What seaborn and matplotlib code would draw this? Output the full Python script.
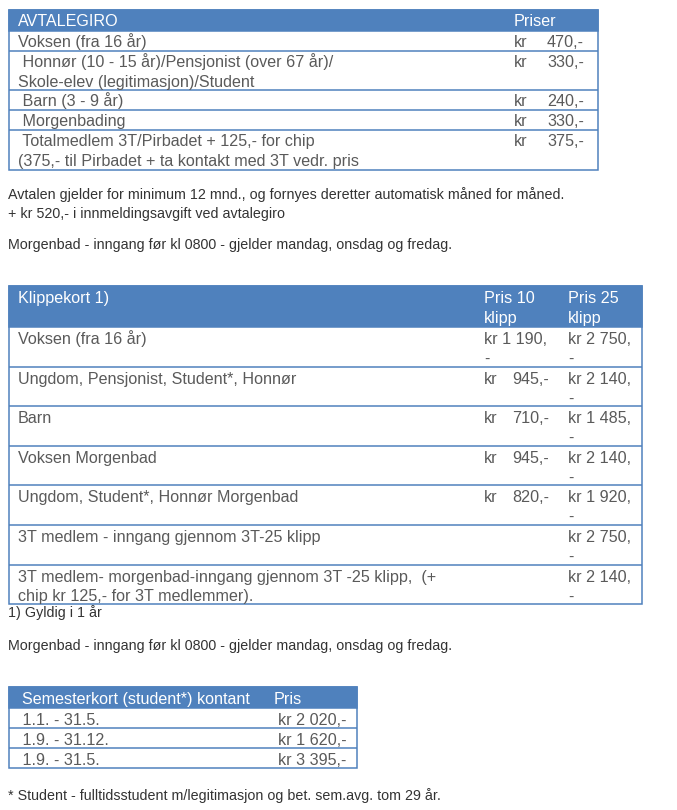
import matplotlib
matplotlib.use("Agg")
import matplotlib.pyplot as plt
import seaborn as sns
from matplotlib.patches import Rectangle

# ---------------- data ----------------
avtale_header = ["AVTALEGIRO", "Priser"]
avtale_labels = [
    "Voksen (fra 16 år)",
    " Honnør (10 - 15 år)/Pensjonist (over 67 år)/\nSkole-elev (legitimasjon)/Student",
    " Barn (3 - 9 år)",
    " Morgenbading",
    " Totalmedlem 3T/Pirbadet + 125,- for chip\n(375,- til Pirbadet + ta kontakt med 3T vedr. pris",
]
avtale_prices = [470, 330, 240, 330, 375]

notes_1 = [
    "Avtalen gjelder for minimum 12 mnd., og fornyes deretter automatisk måned for måned.",
    "+ kr 520,- i innmeldingsavgift ved avtalegiro",
]
morgen_note = "Morgenbad - inngang før kl 0800 - gjelder mandag, onsdag og fredag."

klipp_header = ["Klippekort 1)", "Pris 10\nklipp", "Pris 25\nklipp"]
klipp_labels = [
    "Voksen (fra 16 år)",
    "Ungdom, Pensjonist, Student*, Honnør",
    "Barn",
    "Voksen Morgenbad",
    "Ungdom, Student*, Honnør Morgenbad",
    "3T medlem - inngang gjennom 3T-25 klipp",
    "3T medlem- morgenbad-inngang gjennom 3T -25 klipp,  (+\nchip kr 125,- for 3T medlemmer).",
]
klipp_pris10 = [1190, 945, 710, 945, 820, None, None]
klipp_pris25 = [2750, 2140, 1485, 2140, 1920, 2750, 2140]
klipp_note = "1) Gyldig i 1 år"

sem_header = ["Semesterkort (student*) kontant", "Pris"]
sem_periods = [" 1.1. - 31.5.", " 1.9. - 31.12.", " 1.9. - 31.5."]
sem_prices = [2020, 1620, 3395]
student_note = "* Student - fulltidsstudent m/legitimasjon og bet. sem.avg. tom 29 år."

# ---------------- style ----------------
sns.set_theme(style="white")
plt.rcParams["font.family"] = ["Liberation Sans", "DejaVu Sans"]

BLUE = "#4F81BD"
TXT = "#5a5a5a"
PTXT = "#333333"
FS_T = 11.6
FS_P = 10.3
LINE = 19.8
LW = 1.1

fig = plt.figure(figsize=(6.77, 8.10), dpi=100)
ax = fig.add_axes([0, 0, 1, 1])
ax.set_xlim(0, 677)
ax.set_ylim(810, 0)
ax.axis("off")


def fmt(v):
    return f"{v:,}".replace(",", " ")


def draw_lines(x, y, s, color=TXT, ha="left", fs=FS_T):
    for i, line in enumerate(s.split("\n")):
        ax.text(x, y + i * LINE, line, color=color, fontsize=fs,
                ha=ha, va="baseline")


def table_frame(x0, x1, top, head_h, row_hs):
    bottom = top + head_h + sum(row_hs)
    ax.add_patch(Rectangle((x0, top), x1 - x0, head_h, facecolor=BLUE,
                           edgecolor=BLUE, lw=LW))
    ax.add_patch(Rectangle((x0, top), x1 - x0, bottom - top, facecolor="none",
                           edgecolor=BLUE, lw=LW))
    tops = []
    y = top + head_h
    for h in row_hs:
        tops.append(y)
        y += h
    ax.hlines(tops[1:], x0, x1, color=BLUE, lw=LW)
    return tops


# ---------------- table 1 ----------------
t1_top = 10
rows1 = [LINE * (lab.count("\n") + 1) for lab in avtale_labels]
tops1 = table_frame(9, 598, t1_top, 21, rows1)
ax.text(18, t1_top + 16, avtale_header[0], color="white", fontsize=FS_T, va="baseline")
ax.text(514, t1_top + 16, avtale_header[1], color="white", fontsize=FS_T, va="baseline")
for rt, lab, p in zip(tops1, avtale_labels, avtale_prices):
    draw_lines(18, rt + 16, lab)
    ax.text(514, rt + 16, "kr", color=TXT, fontsize=FS_T, va="baseline")
    ax.text(584, rt + 16, f"{p},-", color=TXT, fontsize=FS_T, ha="right", va="baseline")

# ---------------- notes ----------------
ax.text(8, 199, notes_1[0], color=PTXT, fontsize=FS_P, va="baseline")
ax.text(8, 218, notes_1[1], color=PTXT, fontsize=FS_P, va="baseline")
ax.text(8, 249, morgen_note, color=PTXT, fontsize=FS_P, va="baseline")

# ---------------- table 2 ----------------
t2_top = 286
rows2 = [39.6] * len(klipp_labels)
tops2 = table_frame(9, 642, t2_top, 41, rows2)
draw_lines(18, t2_top + 17, klipp_header[0], color="white")
draw_lines(484, t2_top + 17, klipp_header[1], color="white")
draw_lines(568, t2_top + 17, klipp_header[2], color="white")
for rt, lab, p10, p25 in zip(tops2, klipp_labels, klipp_pris10, klipp_pris25):
    draw_lines(18, rt + 17, lab)
    if p10 is not None:
        if p10 >= 1000:
            draw_lines(484, rt + 17, f"kr {fmt(p10)},\n-")
        else:
            ax.text(484, rt + 17, "kr", color=TXT, fontsize=FS_T, va="baseline")
            ax.text(549, rt + 17, f"{p10},-", color=TXT, fontsize=FS_T,
                    ha="right", va="baseline")
    draw_lines(568, rt + 17, f"kr {fmt(p25)},\n-")

ax.text(8, 617, klipp_note, color=PTXT, fontsize=FS_P, va="baseline")
ax.text(8, 650, morgen_note, color=PTXT, fontsize=FS_P, va="baseline")

# ---------------- table 3 ----------------
t3_top = 687
rows3 = [20] * len(sem_periods)
tops3 = table_frame(9, 357, t3_top, 21, rows3)
ax.text(22, t3_top + 17, sem_header[0], color="white", fontsize=FS_T, va="baseline")
ax.text(274, t3_top + 17, sem_header[1], color="white", fontsize=FS_T, va="baseline")
for rt, per, p in zip(tops3, sem_periods, sem_prices):
    ax.text(18, rt + 17, per, color=TXT, fontsize=FS_T, va="baseline")
    ax.text(278, rt + 17, f"kr {fmt(p)},-", color=TXT, fontsize=FS_T, va="baseline")

ax.text(8, 800, student_note, color=PTXT, fontsize=FS_P, va="baseline")

fig.savefig("out.png", dpi=100)
